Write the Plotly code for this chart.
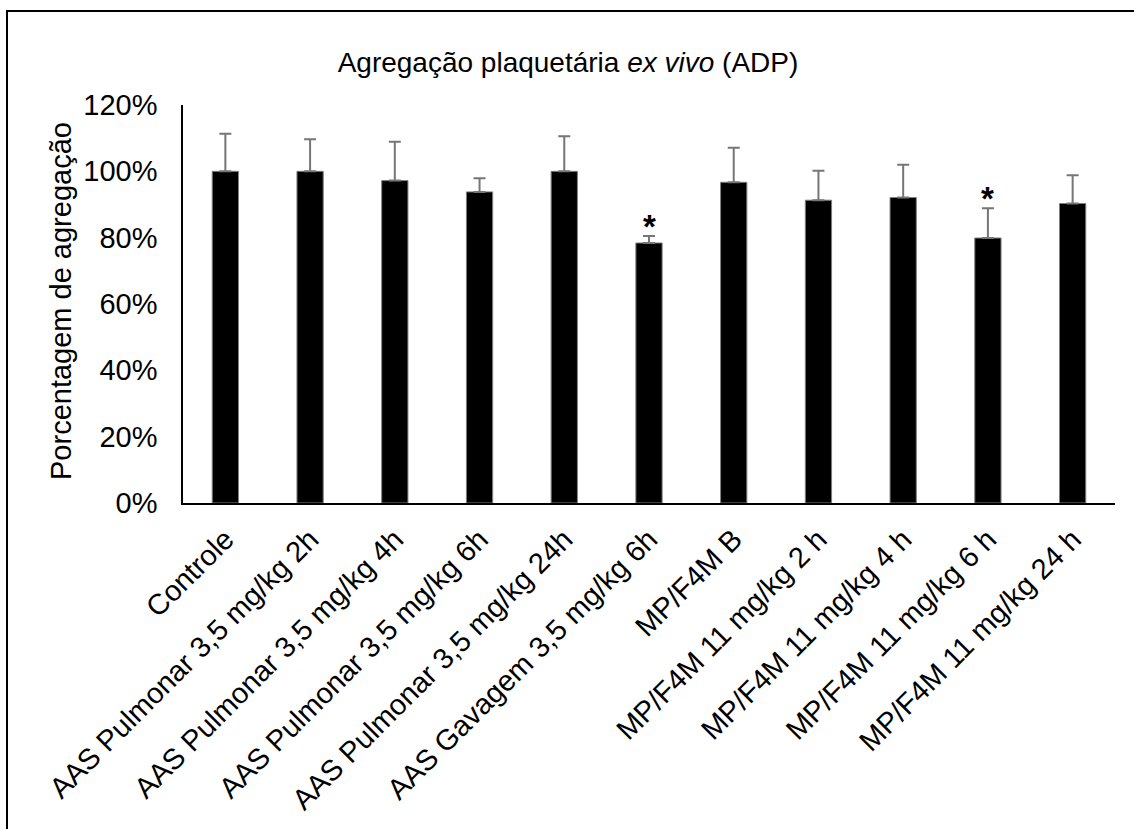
import plotly.graph_objects as go

categories = [
    "Controle",
    "AAS Pulmonar 3,5 mg/kg 2h",
    "AAS Pulmonar 3,5 mg/kg 4h",
    "AAS Pulmonar 3,5 mg/kg 6h",
    "AAS Pulmonar 3,5 mg/kg 24h",
    "AAS Gavagem 3,5 mg/kg 6h",
    "MP/F4M B",
    "MP/F4M 11 mg/kg 2 h",
    "MP/F4M 11 mg/kg 4 h",
    "MP/F4M 11 mg/kg 6 h",
    "MP/F4M 11 mg/kg 24 h",
]
values = [1.000, 1.000, 0.972, 0.938, 1.000, 0.784, 0.967, 0.913, 0.921, 0.799, 0.903]
errors = [0.113, 0.097, 0.117, 0.041, 0.106, 0.021, 0.104, 0.089, 0.099, 0.090, 0.085]
significant = [False, False, False, False, False, True, False, False, False, True, False]

W, H = 1134, 829
L, R, T, B = 183, 19, 105, 326
FONT = "Liberation Sans, Arial, sans-serif"

fig = go.Figure()
fig.add_trace(go.Bar(
    x=categories,
    y=values,
    width=0.31,
    marker=dict(color="black", line=dict(color="#7f7f7f", width=1)),
    error_y=dict(type="data", symmetric=False, array=errors,
                 arrayminus=[0] * len(errors),
                 color="#767676", thickness=2, width=6),
))

for cat, v, e, s in zip(categories, values, errors, significant):
    if s:
        fig.add_annotation(x=cat, y=v + e, text="<b>*</b>", showarrow=False,
                           xref="x", yref="y", yanchor="bottom", yshift=-11,
                           font=dict(family=FONT, size=33, color="black"))

fig.add_annotation(text="Porcentagem de agregação", textangle=-90,
                   xref="paper", yref="paper",
                   x=(61 - L) / (W - L - R), y=(503 - 301) / (H - T - B),
                   xanchor="center", yanchor="middle", showarrow=False,
                   font=dict(family=FONT, size=29, color="black"))

# outer frame (chart area border)
fig.add_shape(type="rect", xref="paper", yref="paper",
              x0=(7 - L) / (W - L - R), x1=(W + 20 - L) / (W - L - R),
              y0=(H - B - (H + 20)) / (H - T - B), y1=(H - B - 11) / (H - T - B),
              line=dict(color="black", width=2), layer="below")

fig.update_layout(
    width=W, height=H,
    margin=dict(l=L, r=R, t=T, b=B),
    paper_bgcolor="white", plot_bgcolor="white",
    showlegend=False,
    font=dict(family=FONT, size=29, color="black"),
    title=dict(text="Agregação plaquetária <i>ex vivo</i> (ADP)",
               xref="container", yref="container",
               x=568 / W, y=1 - 62 / H, xanchor="center", yanchor="middle",
               font=dict(family=FONT, size=28, color="black")),
    xaxis=dict(
        range=[-0.5, 10.5], tickangle=-45, showgrid=False,
        showline=True, linecolor="black", linewidth=1.5,
        ticks="", ticklabelstandoff=6, automargin=False,
        tickfont=dict(family=FONT, size=29, color="black"),
    ),
    yaxis=dict(
        range=[0, 1.2], dtick=0.2, tickformat=".0%", showgrid=False,
        showline=True, linecolor="black", linewidth=1.5,
        ticks="", ticklabelstandoff=18, automargin=False, zeroline=False,
        tickfont=dict(family=FONT, size=29, color="black"),
    ),
)

fig.write_html("out.html")
